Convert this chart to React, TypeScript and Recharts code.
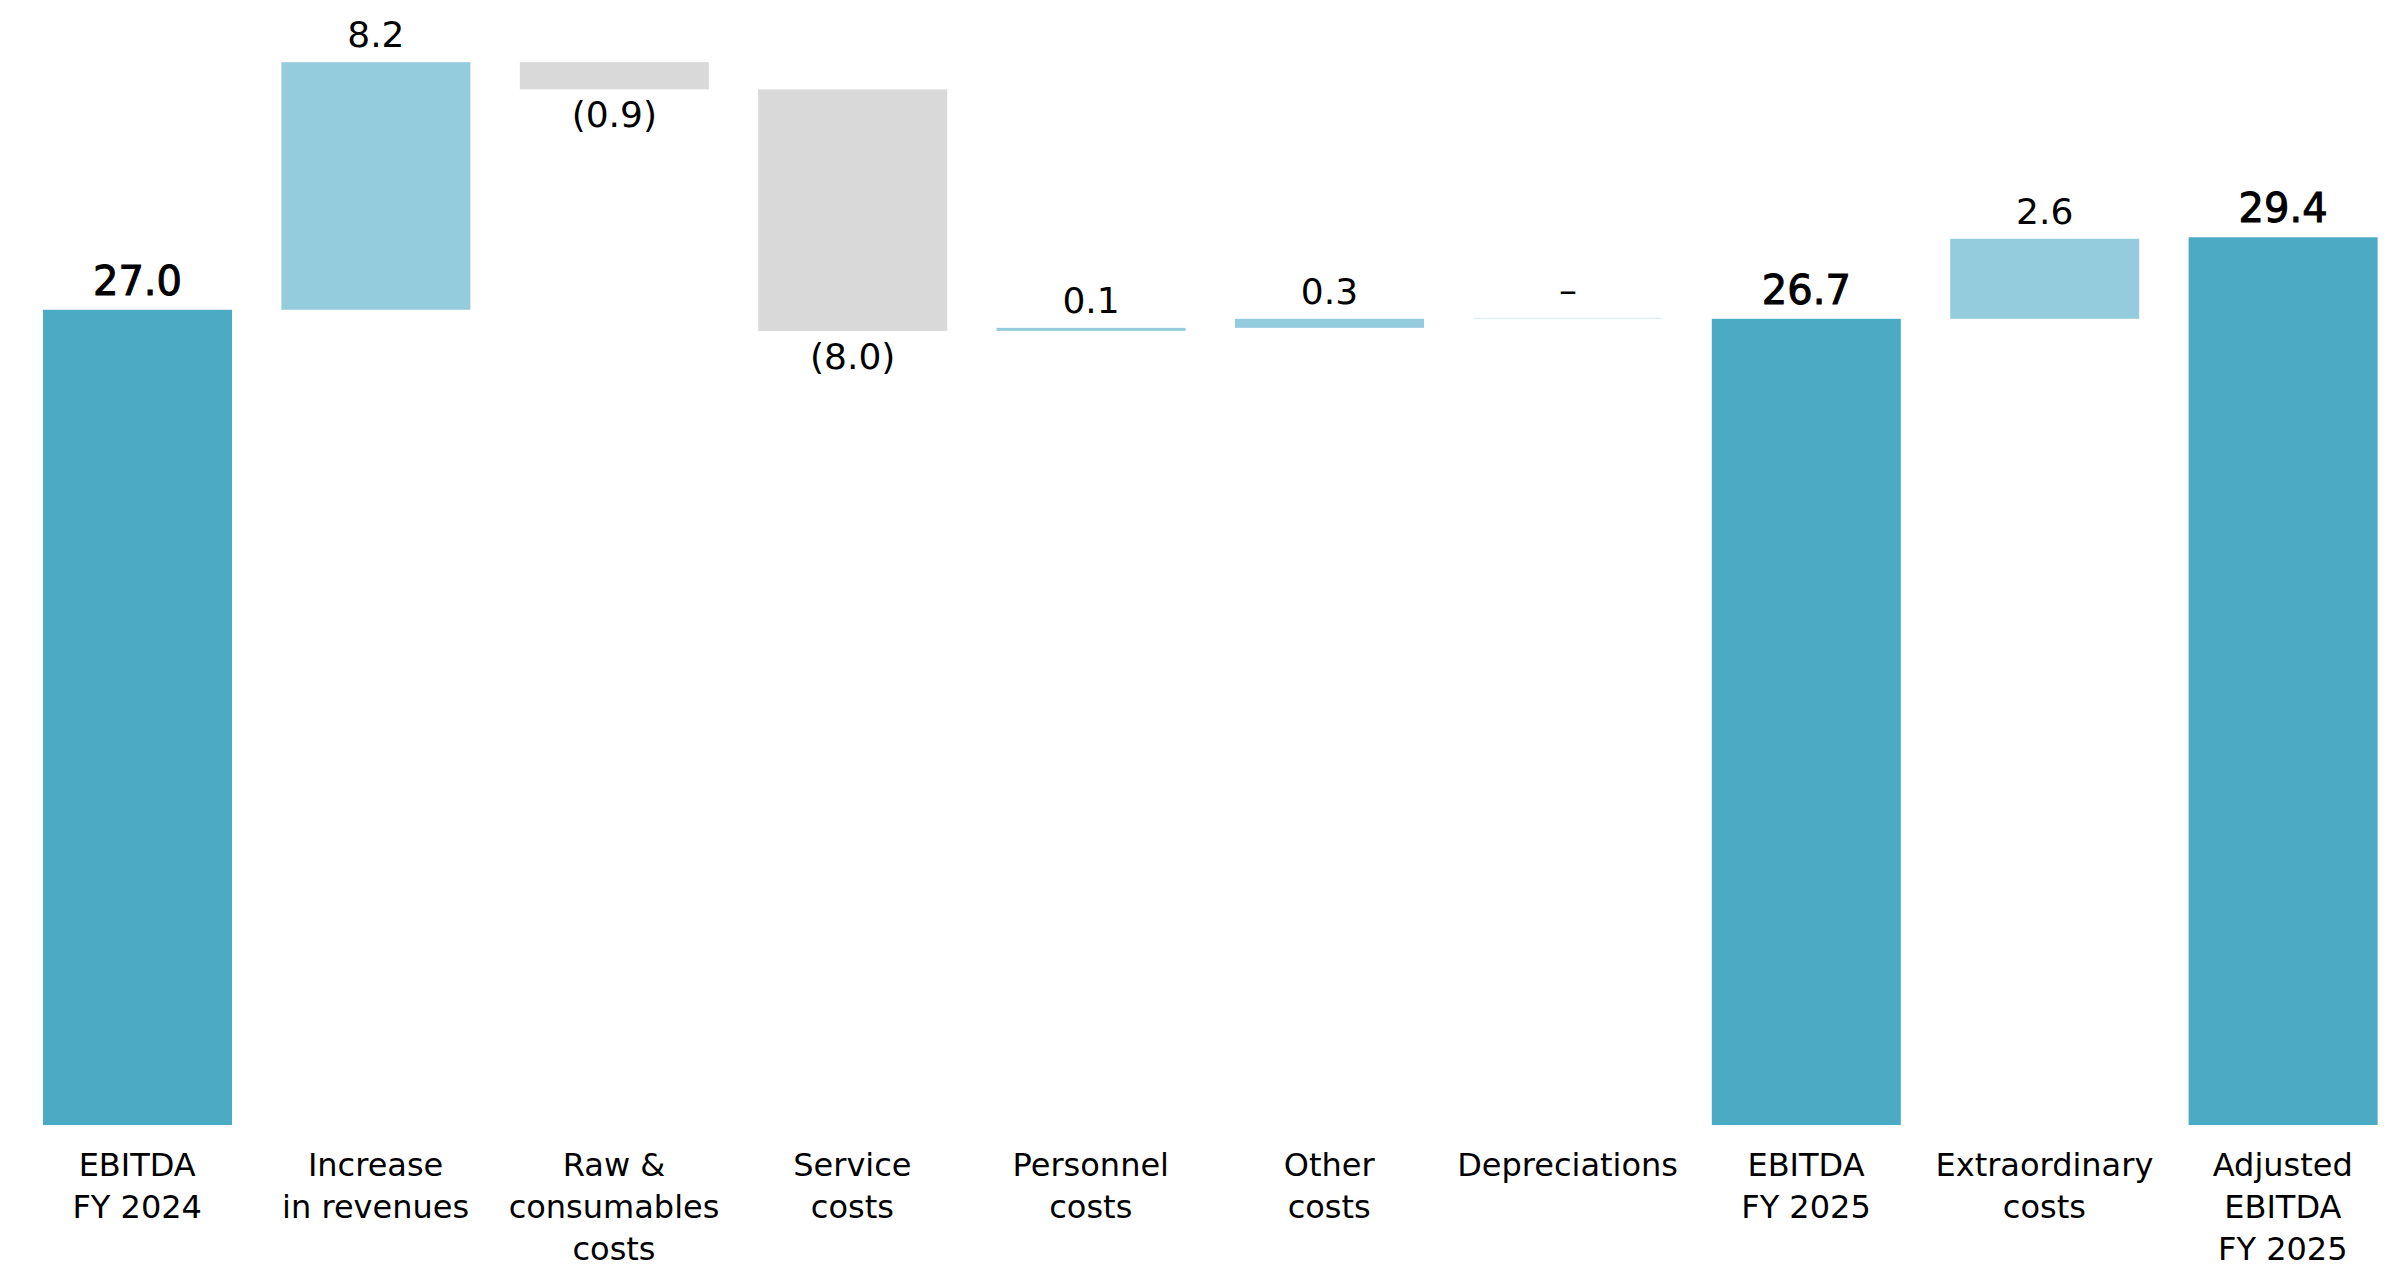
import { BarChart, Bar, XAxis, YAxis, Cell } from 'recharts';

// EBITDA bridge FY 2024 -> FY 2025 (EUR m)
const categories = [
  'EBITDA\nFY 2024',
  'Increase\nin revenues',
  'Raw &\nconsumables\ncosts',
  'Service\ncosts',
  'Personnel\ncosts',
  'Other\ncosts',
  'Depreciations',
  'EBITDA\nFY 2025',
  'Extraordinary\ncosts',
  'Adjusted\nEBITDA\nFY 2025',
];
const steps = [27.0, 8.2, -0.9, -8.0, 0.1, 0.3, 0, 26.7, 2.65, 29.4];
const isTotal = [true, false, false, false, false, false, false, true, false, true];
const valueLabels = ['27.0', '8.2', '(0.9)', '(8.0)', '0.1', '0.3', '–', '26.7', '2.6', '29.4'];

const TOTAL = '#4BABC4';
const UP = '#95CCDD';
const DOWN = '#D9D9D9';
const ZERO = '#D4EEF4';
const FONT = '"DejaVu Sans", sans-serif';

let running = 0;
const data = categories.map((name, i) => {
  const step = steps[i];
  let base = 0;
  let size = 0;
  if (isTotal[i]) {
    running = step;
    size = step;
  } else if (step >= 0) {
    base = running;
    size = step;
    running += step;
  } else {
    running += step;
    base = running;
    size = -step;
  }
  const color = isTotal[i] ? TOTAL : step > 0 ? UP : step < 0 ? DOWN : ZERO;
  return { name, base, size, color, label: valueLabels[i], negative: step < 0, total: isTotal[i] };
});

const WaterfallBar = (props: any) => {
  const { x, y, width, height, payload } = props;
  const cx = x + width / 2;
  const ty = payload.negative ? y + height + 38 : y - 15;
  return (
    <g>
      <rect x={x} y={y} width={width} height={height} fill={payload.color} />
      <text
        x={cx}
        y={ty}
        textAnchor="middle"
        fontFamily={FONT}
        fontSize={payload.total ? 40 : 36}
        fill="#000"
        stroke={payload.total ? '#000' : 'none'}
        strokeWidth={payload.total ? 1 : 0}
      >
        {payload.label}
      </text>
    </g>
  );
};

const CategoryTick = ({ x, y, payload }: any) => {
  const lines = String(payload.value).split('\n');
  return (
    <text x={x} y={y} textAnchor="middle" fontFamily={FONT} fontSize={32} fill="#000">
      {lines.map((l, i) => (
        <tspan key={i} x={x} dy={i === 0 ? 51 : 42}>
          {l}
        </tspan>
      ))}
    </text>
  );
};

export default function App() {
  return (
    <div
      style={{
        position: 'absolute',
        left: 0,
        top: 0,
        width: 2394,
        height: 1268,
        overflow: 'hidden',
        background: '#fff',
      }}
    >
      <BarChart
        width={2402}
        height={1268}
        data={data}
        margin={{ top: 38, right: 0, bottom: 0, left: 18 }}
        barSize={189}
      >
        <XAxis
          dataKey="name"
          axisLine={false}
          tickLine={false}
          tickSize={0}
          tickMargin={0}
          height={143}
          interval={0}
          tick={<CategoryTick />}
        />
        <YAxis hide domain={[0, 36]} />
        <Bar dataKey="base" stackId="a" fill="transparent" isAnimationActive={false} />
        <Bar
          dataKey="size"
          stackId="a"
          isAnimationActive={false}
          minPointSize={(v: any, i: number) => (steps[i] === 0 ? 1 : 0)}
          shape={<WaterfallBar />}
        >
          {data.map((d, i) => (
            <Cell key={i} fill={d.color} />
          ))}
        </Bar>
      </BarChart>
    </div>
  );
}
